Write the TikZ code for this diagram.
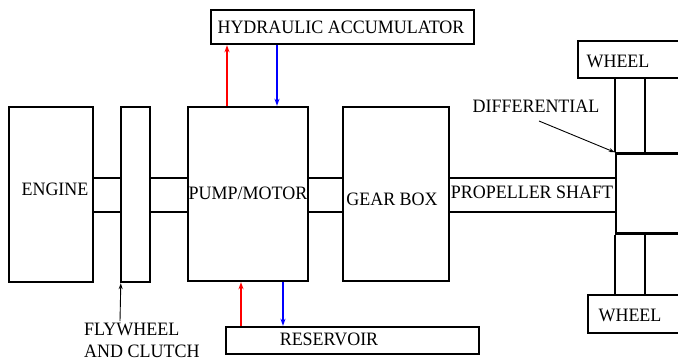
\documentclass[tikz,border=0pt]{standalone}
\usepackage{fontspec}
\setmainfont{Liberation Serif}[FakeStretch=0.95]
\usetikzlibrary{arrows.meta}
\begin{document}
\begin{tikzpicture}[x=1bp,y=-1bp,
  box/.style={draw,line width=2.4bp,inner sep=0pt,minimum width=#1},
  lbl/.style={inner sep=0pt,text height=12.6bp,text depth=0pt,font=\fontsize{19}{21.5}\selectfont},
  shaft/.style={line width=2.4bp},
  flow/.style={line width=2bp,-{Stealth[length=7bp,width=5bp]}},
  pointer/.style={line width=0.9bp,-{Stealth[length=6bp,width=4bp]}}]
\useasboundingbox (0,0) rectangle (678,360);
\clip (0,0) rectangle (678,360);
% boxes
\node[box=84bp,minimum height=175bp] (engine) at (51,194.5) {};
\node[box=29bp,minimum height=175bp] (fly) at (135.5,194.5) {};
\node[box=120bp,minimum height=174bp] (pump) at (248,194) {};
\node[box=106bp,minimum height=174bp] (gear) at (396,194) {};
\node[box=263bp,minimum height=34bp] (acc) at (342.5,27) {};
\node[box=253bp,minimum height=27bp] (res) at (352.5,340.5) {};
\node[box=63bp,minimum height=80bp] (diff) at (647.5,193.5) {};
\node[box=122bp,minimum height=37bp] (wheelT) at (639,59.5) {};
\node[box=122bp,minimum height=38bp] (wheelB) at (649,314) {};
% texts
\node[lbl] (tacc) at (341,27.5) {HYDRAULIC ACCUMULATOR};
\node[lbl] (teng) at (55,189) {ENGINE};
\node[lbl] (tpump) at (248,193.5) {PUMP/MOTOR};
\node[lbl] (tgear) at (392,199.5) {GEAR BOX};
\node[lbl] (tprop) at (532,192.5) {PROPELLER SHAFT};
\node[lbl] (twT) at (618,61) {WHEEL};
\node[lbl] (twB) at (630,315.5) {WHEEL};
\node[lbl] (tres) at (329,339.5) {RESERVOIR};
\node[lbl] (tdiff) at (536,106.5) {DIFFERENTIAL};
\node[lbl,anchor=west] (tfly1) at (84,329.5) {FLYWHEEL};
\node[lbl,anchor=west] (tfly2) at (84,351) {AND CLUTCH};
% helper coordinates
\coordinate (st) at (0,178);
\coordinate (sb) at (0,212);
\coordinate (wx) at (645,0);
\coordinate (ra) at (227,0);
\coordinate (ba) at (277,0);
\coordinate (rr) at (241,0);
\coordinate (br) at (283,0);
\coordinate (flyptr) at (120,321);
\coordinate (diffptr) at (539,121);
% shafts
\foreach \a/\b in {engine/fly,fly/pump,pump/gear,gear/diff}{
  \draw[shaft] (\a.east |- st) -- (\b.west |- st);
  \draw[shaft] (\a.east |- sb) -- (\b.west |- sb);
}
% wheel links
\draw[shaft] (diff.north west) -- (diff.north west |- wheelT.south);
\draw[shaft] (wx |- diff.north) -- (wx |- wheelT.south);
\draw[shaft] (diff.south west) -- (diff.south west |- wheelB.north);
\draw[shaft] (wx |- diff.south) -- (wx |- wheelB.north);
% hydraulic flows
\draw[flow,red] (ra |- pump.north) -- (ra |- acc.south);
\draw[flow,blue] (ba |- acc.south) -- (ba |- pump.north);
\draw[flow,red] (rr |- res.north) -- (rr |- pump.south);
\draw[flow,blue] (br |- pump.south) -- (br |- res.north);
% pointers
\draw[pointer] (flyptr) -- ([xshift=1bp]fly.south west);
\draw[pointer] (diffptr) -- (diff.north west);
\end{tikzpicture}
\end{document}
